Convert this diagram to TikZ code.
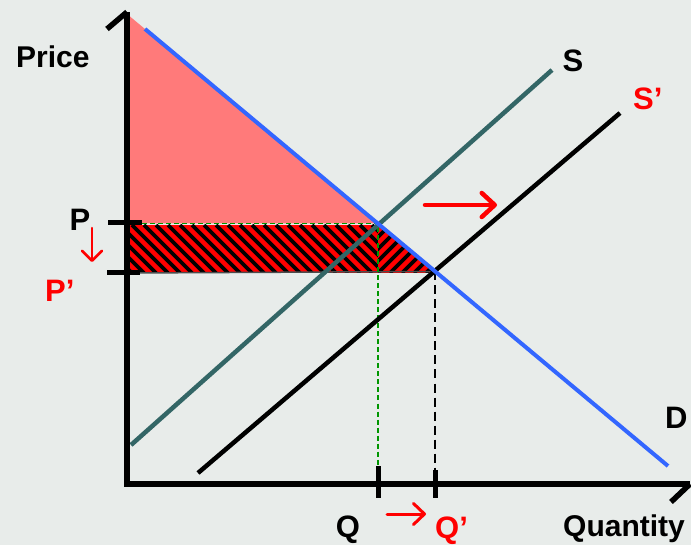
\documentclass[tikz,border=0pt]{standalone}
\usepackage{fontspec}
\setmainfont{Liberation Sans}
\usetikzlibrary{arrows.meta}
\definecolor{bg}{RGB}{232,236,234}
\definecolor{pinkfill}{RGB}{255,122,122}
\definecolor{dblue}{RGB}{51,102,255}
\definecolor{teal}{RGB}{51,102,102}
\definecolor{dgreen}{RGB}{0,150,0}
\tikzset{
  axisline/.style={line width=5.5pt, black},
  tickline/.style={line width=5pt, black},
  curve/.style={line width=4.5pt},
  redarrow/.style={red, line cap=round, line join=round},
  lab/.style={font=\fontsize{31}{33}\selectfont\bfseries, inner sep=0pt},
  axlab/.style={font=\fontsize{30}{32}\selectfont\bfseries, inner sep=0pt},
  stripe/.style={black, line width=3.8pt}
}
\begin{document}
\begin{tikzpicture}[x=1pt,y=-1pt]
\fill[bg] (0,0) rectangle (691,545);
\useasboundingbox (0,0) rectangle (691,545);

% key points
\coordinate (O) at (127,484);
\coordinate (Ytop) at (127,12);
\coordinate (Xend) at (690,484);
\coordinate (E1) at (378,223.5);
\coordinate (E2) at (435,271.5);
\coordinate (Dtop) at (145,29);
\coordinate (Dbot) at (668,466);
\coordinate (Dax) at (127,14);
\coordinate (Sbot) at (131,445);
\coordinate (Stop) at (552,70);
\coordinate (S2bot) at (198,473);
\coordinate (S2top) at (620,113);

% consumer surplus (pink)
\fill[pinkfill] (Dax) -- (E1) -- (127,223.5) -- cycle;

% hatched area, left part
\begin{scope}
\clip (127,225) rectangle (378,273);
\fill[red] (127,225) rectangle (378,273);
\foreach \x in {60,72,...,396} \draw[stripe] (\x,225) -- ++(48,48);
\end{scope}
% hatched area, right triangle
\begin{scope}
\clip (378,223.5) -- (378,273) -- (437,273) -- cycle;
\fill[red] (378,223) rectangle (440,273);
\foreach \x in {330,342,...,444} \draw[stripe] (\x,273) -- ++(48,-48);
\end{scope}
\draw[line width=1.5pt, black!70] (127,273) -- (E2);

% dashed guides
\coordinate (Pd) at (142,223.5);
\coordinate (Qd) at (378,466);
\coordinate (Q2d) at (435,470);
\draw[dgreen, line width=1.6pt, dash pattern=on 5pt off 3pt] (Pd) -- (E1) -- (Qd);
\draw[black, line width=1.6pt, dash pattern=on 9pt off 5pt] (E2) -- (Q2d);

% curves
\draw[curve, teal] (Sbot) -- (Stop);
\draw[curve, black] (S2bot) -- (S2top);
\draw[line width=4pt, dblue] (Dtop) -- (Dbot);

% axes
\draw[axisline, line join=miter] (Ytop) -- (O) -- (Xend);
\coordinate (Ybarb) at (107,29);
\coordinate (Xbarb) at (671,502);
\draw[axisline] (Ytop) -- (Ybarb);
\draw[axisline] (Xend) -- (Xbarb);

% ticks
\coordinate (Pt1) at (108,223); \coordinate (Pt2) at (142,223);
\coordinate (Ppt1) at (107,273); \coordinate (Ppt2) at (140,273);
\coordinate (Qt1) at (378,466); \coordinate (Qt2) at (378,498);
\coordinate (Qqt1) at (435,470); \coordinate (Qqt2) at (435,498);
\draw[tickline] (Pt1) -- (Pt2);
\draw[tickline] (Ppt1) -- (Ppt2);
\draw[tickline] (Qt1) -- (Qt2);
\draw[tickline] (Qqt1) -- (Qqt2);

% red arrows
\coordinate (A1s) at (425,205); \coordinate (A1e) at (497,205);
\coordinate (A2s) at (92,228); \coordinate (A2e) at (92,262);
\coordinate (A3s) at (387,514); \coordinate (A3e) at (426,514);
\draw[redarrow, line width=4.5pt, -{Straight Barb[length=13pt,width=24pt,round]}] (A1s) -- (A1e);
\draw[redarrow, line width=2.5pt, -{Straight Barb[length=10pt,width=20pt,round]}] (A2s) -- (A2e);
\draw[redarrow, line width=3pt, -{Straight Barb[length=11pt,width=21pt,round]}] (A3s) -- (A3e);

% labels
\node[axlab, anchor=base west] (price) at (16,68) {Price};
\node[axlab, anchor=base] (qty) at (624,536) {Quantity};
\node[lab, anchor=base] (Slab) at (573,72) {S};
\node[lab, anchor=base west, text=red] (S2lab) at (633,110) {S’};
\node[lab, anchor=base west] (Dlab) at (665,428) {D};
\node[lab, anchor=base] (Plab) at (80,231) {P};
\node[lab, anchor=base west, text=red] (P2lab) at (45,302) {P’};
\node[lab, anchor=base] (Qlab) at (348,537) {Q};
\node[lab, anchor=base west, text=red] (Q2lab) at (435,538) {Q’};
\end{tikzpicture}
\end{document}
